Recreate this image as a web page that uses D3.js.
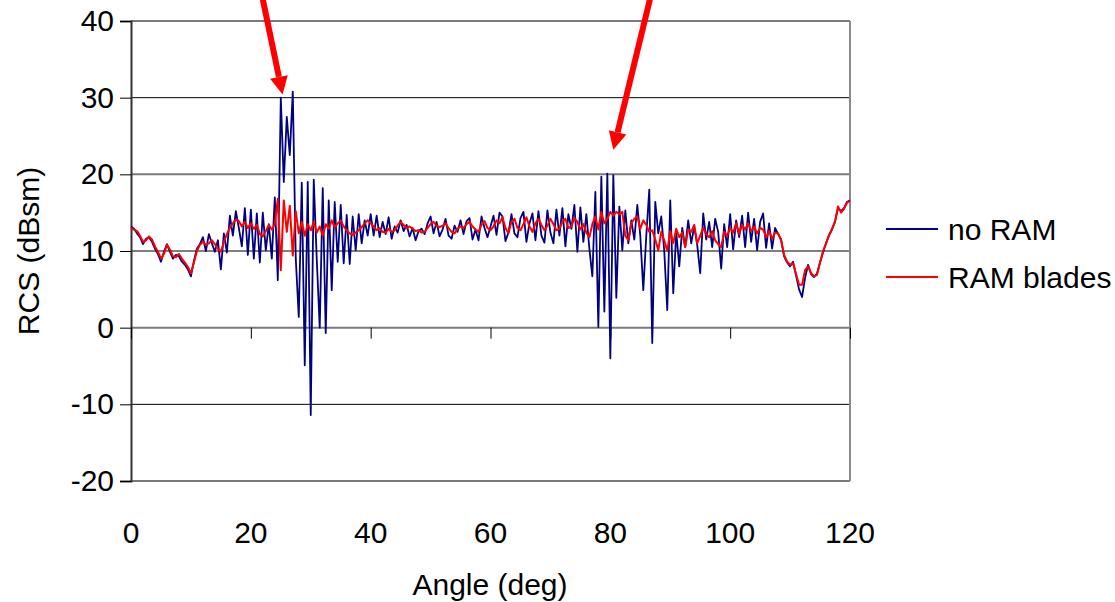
<!DOCTYPE html>
<html>
<head>
<meta charset="utf-8">
<script src="https://cdn.jsdelivr.net/npm/d3@7"></script>
<style>
body{margin:0;background:#fff}
text{font-family:"Liberation Sans",Arial,sans-serif;fill:#000}
</style>
</head>
<body>
<svg id="chart"></svg>
<script>
// angle step of the measurement, deg
var step = 0.5

// no RAM, 0 .. 120 deg every 0.5 deg
var noRam = [
 13.2,12.9,12.3,11.8,10.9,11.6,11.8,11.2,10.3,9.6,8.6,9.9,10.9,9.9,9.0,9.5,9.3,8.6,8.2,7.6,
 6.7,8.7,10.3,10.9,11.8,10.0,12.2,11.0,9.9,11.4,7.6,12.3,9.8,14.6,12.0,15.2,13.0,10.6,15.6,9.5,
 15.4,9.0,14.9,8.5,15.0,10.1,13.5,9.0,17.0,6.2,30.0,19.0,27.5,22.5,30.8,9.0,1.4,18.9,-4.9,19.0,
 -11.4,19.3,9.0,0.0,18.2,-0.7,16.6,4.9,16.4,8.6,16.0,8.4,14.7,8.3,14.5,10.1,14.8,11.0,14.0,12.0,
 14.8,12.0,14.6,11.8,13.8,12.2,14.4,11.6,13.2,12.4,14.0,12.6,13.4,11.9,13.0,11.4,12.6,12.9,12.2,13.6,
 14.5,12.3,13.8,11.9,12.8,14.2,12.0,11.6,13.3,12.5,14.0,12.2,13.9,14.3,11.5,12.8,11.4,14.5,13.0,11.8,
 13.2,14.6,12.1,15.0,14.5,11.3,12.4,14.8,12.3,11.8,14.3,15.1,11.2,13.6,14.9,11.4,15.2,12.0,11.1,15.3,
 12.4,11.0,15.4,12.0,15.6,10.6,14.8,12.9,16.0,9.9,15.7,11.2,14.8,10.3,6.7,17.7,0.1,19.7,2.1,20.1,
 -4.0,19.9,3.9,15.8,10.1,15.3,11.0,14.0,11.5,16.0,12.0,4.9,12.0,18.0,-2.0,16.4,12.3,14.5,10.0,2.3,
 16.6,4.5,12.5,8.0,13.0,10.5,14.0,11.0,13.2,10.8,7.1,14.9,11.5,13.8,10.5,14.2,12.5,7.7,13.5,10.5,
 14.8,10.2,14.0,11.8,14.6,10.5,15.0,11.2,14.2,10.1,13.8,14.9,10.4,13.6,10.3,13.0,12.2,11.5,9.3,8.5,
 8.0,8.6,6.8,5.0,4.0,6.5,8.2,7.0,6.6,7.1,8.5,9.8,11.0,12.0,12.8,13.8,15.6,15.2,15.6,16.4,
 16.6
]

// RAM blades, same angles
var ramBlades = [
 13.0,12.8,12.6,12.0,11.2,11.4,11.9,11.5,10.6,9.9,9.0,9.6,10.8,10.2,9.3,9.2,9.6,9.0,8.5,7.9,
 7.1,8.5,10.0,10.8,11.2,10.8,11.0,11.4,10.9,10.3,9.9,11.2,12.2,13.0,13.6,14.1,13.9,13.2,13.8,13.0,
 13.6,12.9,13.4,12.2,11.9,12.6,13.4,12.8,13.5,16.8,7.5,16.6,12.5,15.9,9.4,15.2,12.3,13.8,12.0,13.5,
 12.7,13.8,12.4,13.2,12.0,13.5,12.9,14.0,13.1,13.6,14.0,13.2,12.7,12.3,12.1,12.4,12.7,13.1,13.6,14.0,
 13.6,13.2,12.7,13.0,12.5,12.4,12.9,12.5,12.7,13.3,13.8,13.4,13.0,13.2,12.9,12.6,12.7,12.4,12.5,13.0,
 13.5,13.8,13.3,13.1,13.3,13.6,13.0,12.5,12.3,12.9,13.2,13.0,13.5,13.8,13.2,12.8,12.5,13.4,13.9,13.0,
 12.7,13.2,14.0,13.6,14.4,13.0,12.3,13.8,14.2,13.0,12.7,13.5,14.4,13.2,12.5,13.6,14.2,13.4,12.7,13.3,
 14.2,13.5,12.7,12.9,13.8,14.2,13.0,13.2,14.3,13.8,12.8,13.5,12.4,11.8,13.5,14.5,12.8,15.1,13.6,14.2,
 15.1,14.6,15.1,14.8,15.1,12.0,11.4,13.6,14.2,14.5,12.9,14.0,13.4,12.5,12.7,11.5,10.1,12.5,11.4,10.0,
 12.6,11.0,12.9,11.8,12.4,10.5,12.8,12.5,13.4,11.0,12.0,13.0,12.2,11.8,12.6,11.4,10.9,10.5,12.5,12.0,
 13.0,12.4,13.6,12.2,13.4,12.8,13.6,12.6,13.2,12.3,13.0,12.8,11.8,12.6,11.6,12.4,12.3,11.4,9.5,8.6,
 8.2,8.4,7.0,5.6,5.6,7.5,8.0,7.1,6.7,6.9,8.5,10.0,11.0,12.1,12.9,13.9,15.8,15.0,15.5,16.3,
 16.5
]

var xTicks = [0,20,40,60,80,100,120]
var yTicks = [-20,-10,0,10,20,30,40]
var seriesNames = ["no RAM","RAM blades"]
var seriesColors = ["#000080","#ff0000"]

// arrows: [tail angle, tail rcs, tip angle, tip rcs]
var arrows = [
 [22.0,42.8,25.3,30.4],
 [86.6,42.8,80.5,23.2]
]

var width = 1115
var height = 602
var plot = {left:131, right:850, top:21, bottom:481}
var fontSize = "30px"

var svg = d3.select("#chart")
    .attr("width", width)
    .attr("height", height)

var x = d3.scaleLinear().domain([0,120]).range([plot.left, plot.right])
var y = d3.scaleLinear().domain([-20,40]).range([plot.bottom, plot.top])

// gridlines
svg.append("g")
    .selectAll("line")
    .data(yTicks)
    .enter()
    .append("line")
    .attr("x1", plot.left)
    .attr("x2", plot.right)
    .attr("y1", function(d){return y(d)})
    .attr("y2", function(d){return y(d)})
    .attr("stroke", function(d){return d%20==0 ? "#7a7a7a" : "#000"})
    .attr("stroke-width", function(d){return d%20==0 ? 2 : 1})

// right border
svg.append("line")
    .attr("x1", plot.right).attr("x2", plot.right)
    .attr("y1", plot.top).attr("y2", plot.bottom)
    .attr("stroke", "#8a8a8a")
    .attr("stroke-width", 2)

// y axis
var yAxis = d3.axisLeft(y)
    .tickValues(yTicks)
    .tickSize(11)
    .tickPadding(6)
    .tickFormat(function(d){return String(d)})
var gy = svg.append("g")
    .attr("transform", "translate(" + plot.left + ",0)")
    .call(yAxis)
gy.select(".domain").attr("stroke", "#333").attr("stroke-width", 2)
gy.selectAll(".tick line").attr("stroke", "#000")
gy.selectAll("text")
    .style("font-size", fontSize)
    .attr("font-family", null)
    .attr("fill", "#000")

// x axis ticks sit on the zero line, labels below the plot
var xAxis = d3.axisBottom(x).tickValues(xTicks).tickSize(11).tickFormat("")
var gx = svg.append("g")
    .attr("transform", "translate(0," + y(0) + ")")
    .call(xAxis)
gx.select(".domain").remove()
gx.selectAll(".tick line").attr("stroke", "#000")

svg.append("g")
    .selectAll("text")
    .data(xTicks)
    .enter()
    .append("text")
    .attr("x", function(d){return x(d)})
    .attr("y", 543)
    .attr("text-anchor", "middle")
    .style("font-size", fontSize)
    .text(function(d){return d})

// lines
var line = d3.line()
    .x(function(d, i){return x(i*step)})
    .y(function(d){return y(d)})

svg.append("path")
    .datum(noRam)
    .attr("d", line)
    .attr("fill", "none")
    .attr("stroke", seriesColors[0])
    .attr("stroke-width", 1.8)
    .attr("stroke-linejoin", "round")

svg.append("path")
    .datum(ramBlades)
    .attr("d", line)
    .attr("fill", "none")
    .attr("stroke", seriesColors[1])
    .attr("stroke-width", 2)
    .attr("stroke-linejoin", "round")

// red arrows
arrows.forEach(function(a){
    var x1 = x(a[0]), y1 = y(a[1]), x2 = x(a[2]), y2 = y(a[3])
    var ang = Math.atan2(y2-y1, x2-x1)
    var hl = 18, hw = 9
    var bx = x2 - hl*Math.cos(ang), by = y2 - hl*Math.sin(ang)
    svg.append("line")
        .attr("x1", x1).attr("y1", y1)
        .attr("x2", bx).attr("y2", by)
        .attr("stroke", "#ff0000")
        .attr("stroke-width", 6)
    svg.append("polygon")
        .attr("points", [
            [x2, y2],
            [bx + hw*Math.sin(ang), by - hw*Math.cos(ang)],
            [bx - hw*Math.sin(ang), by + hw*Math.cos(ang)]
        ].map(function(p){return p.join(",")}).join(" "))
        .attr("fill", "#ff0000")
})

// axis titles
svg.append("text")
    .attr("x", 490)
    .attr("y", 595)
    .attr("text-anchor", "middle")
    .style("font-size", fontSize)
    .text("Angle (deg)")

svg.append("text")
    .attr("transform", "translate(39,251) rotate(-90)")
    .attr("text-anchor", "middle")
    .style("font-size", fontSize)
    .text("RCS (dBsm)")

// legend
var legend = svg.append("g")
    .selectAll("g")
    .data(seriesNames)
    .enter()
    .append("g")
    .attr("transform", function(d, i){return "translate(886," + (229 + i*48) + ")"})

legend.append("line")
    .attr("x1", 0).attr("x2", 52)
    .attr("stroke", function(d, i){return seriesColors[i]})
    .attr("stroke-width", 2)

legend.append("text")
    .attr("x", 62)
    .attr("y", 11)
    .style("font-size", fontSize)
    .text(function(d){return d})
</script>
</body>
</html>
